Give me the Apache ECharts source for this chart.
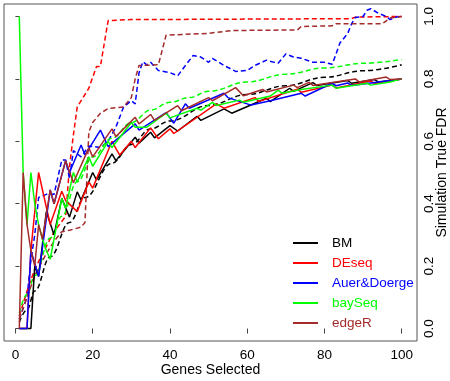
<!DOCTYPE html>
<html>
<head>
<meta charset="utf-8">
<script src="https://cdn.jsdelivr.net/npm/echarts@6/dist/echarts.min.js"></script>
<style>
  html, body { margin: 0; padding: 0; background: #fff; }
  #main { width: 450px; height: 381px; }
</style>
</head>
<body>
<div id="main"></div>
<script>
// method names and colours
var methods = ['BM', 'DEseq', 'Auer&Doerge', 'baySeq', 'edgeR'];
var colors = ['#000000', '#ff0000', '#0000ff', '#00ff00', '#a52a2a'];

var xTicks = [0, 20, 40, 60, 80, 100];
var yTicks = [0, 0.2, 0.4, 0.6, 0.8, 1.0];

// true FDR (solid lines), [genes selected, FDR]
var bmTrue = [[1,0],[4,0],[5,0.2],[6,0.167],[8,0.375],[10,0.3],[12,0.417],[14,0.357],[16,0.438],[17,0.412],[20,0.5],[21,0.476],[25,0.56],[26,0.538],[31,0.613],[32,0.594],[35,0.629],[36,0.611],[40,0.65],[42,0.633],[47,0.68],[48,0.667],[54,0.704],[56,0.69],[65,0.738],[66,0.727],[71,0.77],[72,0.76],[77,0.788],[78,0.779],[86,0.795],[87,0.786],[93,0.798],[94,0.79],[100,0.80]];
var deseqTrue = [[1,0],[3,0],[4,0.25],[6,0.5],[9,0.333],[12,0.44],[13,0.41],[16,0.375],[19,0.47],[20,0.45],[25,0.6],[26,0.577],[27,0.556],[30,0.6],[31,0.58],[35,0.643],[37,0.608],[40,0.64],[41,0.625],[52,0.72],[54,0.706],[62,0.74],[63,0.728],[73,0.767],[74,0.757],[82,0.78],[83,0.771],[92,0.793],[93,0.785],[100,0.80]];
var auerTrue = [[1,0],[3,0],[4,0.25],[6,0.167],[9,0.444],[10,0.4],[13,0.538],[14,0.5],[17,0.588],[18,0.556],[22,0.636],[24,0.583],[31,0.656],[32,0.636],[39,0.692],[41,0.658],[44,0.72],[45,0.706],[54,0.754],[55,0.74],[58,0.728],[61,0.716],[66,0.73],[74,0.754],[75,0.745],[82,0.786],[83,0.778],[86,0.787],[87,0.779],[100,0.80]];
var baySeqTrue = [[1,1],[2,0.5],[3,0.333],[4,0.5],[5,0.4],[6,0.333],[7,0.286],[8,0.25],[9,0.222],[12,0.417],[13,0.385],[15,0.5],[16,0.47],[19,0.55],[20,0.52],[24,0.6],[25,0.58],[30,0.66],[31,0.645],[34,0.645],[39,0.69],[40,0.675],[47,0.706],[48,0.7],[51,0.725],[52,0.715],[58,0.732],[59,0.725],[66,0.745],[68,0.764],[69,0.754],[74,0.766],[82,0.78],[83,0.77],[91,0.786],[92,0.78],[97,0.79],[100,0.80]];
var edgeRTrue = [[1,0],[2,0.5],[3,0.333],[4,0.25],[5,0.2],[6,0.333],[7,0.286],[9,0.444],[10,0.4],[13,0.538],[15,0.467],[19,0.579],[20,0.55],[25,0.64],[26,0.615],[31,0.677],[32,0.656],[35,0.686],[36,0.667],[42,0.714],[43,0.698],[50,0.74],[51,0.73],[57,0.772],[59,0.746],[64,0.766],[65,0.758],[72,0.78],[73,0.772],[76,0.789],[77,0.779],[88,0.80],[89,0.79],[96,0.806],[97,0.798],[100,0.80]];

// estimated FDR (dashed lines)
var bmEst = [[1,0.02],[3,0.06],[5,0.12],[9,0.23],[14,0.34],[18,0.42],[25,0.53],[30,0.59],[35,0.64],[40,0.665],[50,0.715],[60,0.75],[70,0.778],[80,0.805],[90,0.826],[100,0.845]];
var deseqEst = [[1,0.04],[3,0.12],[5,0.19],[7,0.24],[10,0.31],[13,0.36],[14,0.52],[15,0.62],[16,0.71],[19,0.77],[21,0.84],[22,0.84],[24,0.987],[30,0.99],[87,0.993],[88,0.998],[100,1.0]];
var auerEst = [[1,0.03],[3,0.1],[4,0.22],[5,0.3],[6,0.42],[8,0.43],[10,0.43],[12,0.54],[13,0.54],[14,0.48],[15,0.57],[17,0.55],[19,0.585],[22,0.58],[24,0.6],[26,0.645],[28,0.71],[30,0.73],[31,0.72],[32,0.82],[33,0.855],[34,0.845],[35,0.853],[37,0.827],[40,0.82],[42,0.81],[44,0.843],[46,0.875],[48,0.87],[50,0.853],[51,0.866],[54,0.843],[57,0.824],[60,0.827],[62,0.843],[65,0.86],[67,0.853],[68,0.85],[70,0.88],[72,0.87],[74,0.866],[77,0.853],[80,0.853],[82,0.847],[83,0.88],[84,0.915],[86,0.945],[87,0.976],[88,0.997],[90,1.0],[91,1.02],[92,1.025],[94,1.01],[96,1.0],[97,0.99],[99,1.0],[100,0.995]];
var baySeqEst = [[1,0.05],[3,0.11],[5,0.17],[9,0.29],[12,0.36],[16,0.47],[20,0.55],[25,0.61],[30,0.66],[35,0.70],[40,0.725],[45,0.74],[50,0.76],[60,0.79],[70,0.815],[80,0.835],[90,0.85],[100,0.862]];
var edgeREst = [[1,0.03],[3,0.1],[5,0.17],[8,0.24],[10,0.28],[12,0.31],[14,0.315],[17,0.325],[18,0.34],[19,0.63],[20,0.66],[22,0.69],[24,0.705],[28,0.71],[30,0.74],[31,0.80],[32,0.843],[37,0.845],[39,0.94],[50,0.946],[56,0.955],[73,0.957],[74,0.968],[82,0.97],[83,0.977],[95,0.977],[97,0.995],[100,1.0]];

var trueData = [bmTrue, deseqTrue, auerTrue, baySeqTrue, edgeRTrue];
var estData = [bmEst, deseqEst, auerEst, baySeqEst, edgeREst];

var font = "'Liberation Sans', Arial, sans-serif";

var series = [];
// dashed first, solid on top
estData.forEach(function (d, i) {
    series.push({
        name: methods[i], type: 'line', data: d, symbol: 'none',
        smooth: (i === 0 || i === 3) ? 0.4 : false, smoothMonotone: 'x',
        lineStyle: { color: colors[i], width: 1.5, type: [5, 3] },
        itemStyle: { color: colors[i] }
    });
});
trueData.forEach(function (d, i) {
    series.push({
        name: methods[i], type: 'line', data: d, symbol: 'none',
        lineStyle: { color: colors[i], width: 1.5 },
        itemStyle: { color: colors[i] }
    });
});

var chart = echarts.init(document.getElementById('main'));
chart.setOption({
    animation: false,
    backgroundColor: '#fff',
    grid: {
        left: 4, right: 33, top: 4, bottom: 40,
        outerBoundsMode: 'none', containLabel: false,
        show: true, borderColor: '#555', borderWidth: 1
    },
    legend: {
        orient: 'vertical', left: 293, top: 236, padding: 0,
        itemWidth: 25, itemHeight: 2, itemGap: 6, icon: 'rect',
        textStyle: { fontFamily: font, fontSize: 13.5, padding: [0, 0, 0, 9] },
        data: methods.map(function (m, i) {
            return { name: m, itemStyle: { color: colors[i] }, textStyle: { color: colors[i] } };
        })
    },
    xAxis: {
        type: 'value', min: -2.96, max: 103.96,
        name: 'Genes Selected', nameLocation: 'middle', nameGap: 22, nameMoveOverlap: false,
        nameTextStyle: { fontFamily: font, fontSize: 14, color: '#000' },
        axisLine: { show: false },
        axisTick: { show: true, length: 5, customValues: xTicks, lineStyle: { color: '#444' } },
        axisLabel: { customValues: xTicks, margin: 7, fontFamily: font, fontSize: 13.5, color: '#000' },
        splitLine: { show: false }
    },
    yAxis: {
        type: 'value', position: 'right', min: -0.04, max: 1.04,
        name: 'Simulation True FDR', nameLocation: 'middle', nameGap: 18, nameMoveOverlap: false,
        nameTextStyle: { fontFamily: font, fontSize: 14, color: '#000' },
        axisLine: { show: false },
        axisTick: { show: true, length: 4, customValues: yTicks, lineStyle: { color: '#444' } },
        axisLabel: {
            customValues: yTicks, rotate: 90, margin: 5, fontFamily: font, fontSize: 13.5, color: '#000',
            formatter: function (v) { return v.toFixed(1); }
        },
        splitLine: { show: false }
    },
    series: series
});
</script>
</body>
</html>
